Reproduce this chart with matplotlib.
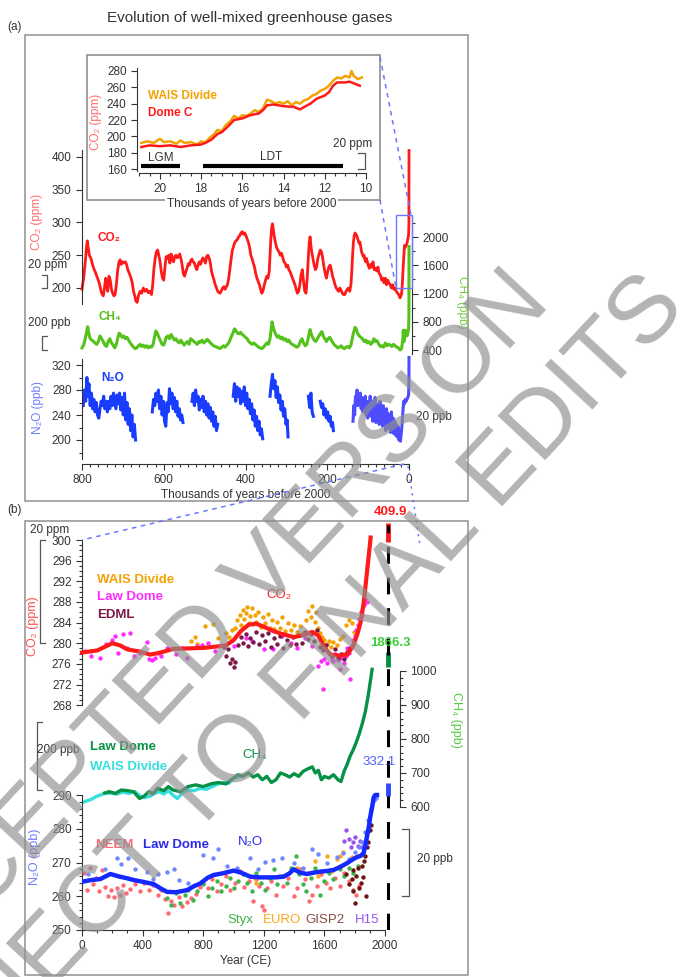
import numpy as np
import matplotlib
matplotlib.use("Agg")
import matplotlib.pyplot as plt
import matplotlib.transforms as mtransforms
from matplotlib.lines import Line2D
from matplotlib.patches import Rectangle

plt.rcParams["font.family"] = ["Liberation Sans", "DejaVu Sans"]
plt.rcParams["font.size"] = 8.5

W, H = 687, 977
NAN = float("nan")

# ---------------- panel (a): last 800 kyr (kyr before 2000) ----------------
co2_800k = [
    (800, 198), (796, 215), (792, 240), (789, 262), (787, 272), (785, 262), (782, 250), (778, 245),
    (774, 235), (770, 228), (766, 222), (762, 215), (758, 208), (755, 200), (752, 192), (748, 188),
    (745, 200), (742, 215), (740, 205), (737, 195), (734, 218), (731, 212), (728, 198), (725, 192),
    (722, 188), (719, 190), (716, 205), (713, 225), (710, 238), (707, 243), (704, 236), (701, 240),
    (698, 238), (694, 240), (691, 236), (688, 228), (684, 222), (680, 215), (677, 208), (674, 195),
    (671, 188), (668, 180), (665, 178), (662, 188), (658, 195), (654, 192), (650, 200), (646, 195),
    (642, 198), (638, 193), (634, 195), (630, 190), (627, 205), (624, 230), (621, 245), (618, 255),
    (615, 258), (612, 250), (609, 240), (606, 225), (603, 215), (600, 212), (597, 232), (594, 248),
    (591, 245), (588, 250), (585, 238), (582, 252), (579, 245), (576, 240), (573, 248), (570, 250),
    (567, 246), (564, 248), (561, 252), (558, 245), (555, 235), (552, 222), (549, 218), (546, 225),
    (543, 230), (540, 237), (537, 235), (534, 242), (531, 244), (528, 240), (525, 238), (522, 232),
    (519, 228), (516, 235), (513, 240), (510, 236), (507, 242), (504, 246), (501, 242), (498, 238),
    (495, 248), (492, 250), (489, 246), (486, 238), (483, 225), (480, 218), (477, 212), (474, 205),
    (471, 200), (468, 195), (465, 193), (462, 192), (459, 196), (456, 200), (453, 202), (450, 198),
    (447, 202), (444, 205), (441, 215), (438, 230), (435, 245), (432, 258), (429, 264), (426, 270),
    (423, 272), (420, 274), (417, 278), (414, 280), (411, 284), (408, 286), (405, 282), (402, 284),
    (399, 280), (396, 275), (393, 270), (390, 262), (387, 250), (384, 245), (381, 238), (378, 232),
    (375, 222), (372, 215), (369, 210), (366, 205), (363, 198), (360, 192), (357, 196), (354, 205),
    (351, 212), (348, 218), (345, 215), (342, 225), (340, 250), (338, 275), (336, 292), (334, 298),
    (332, 290), (330, 280), (327, 270), (324, 262), (321, 258), (318, 255), (315, 250), (312, 253),
    (309, 247), (306, 240), (303, 238), (300, 232), (297, 235), (294, 228), (291, 225), (288, 220),
    (285, 215), (282, 210), (279, 205), (276, 198), (273, 192), (270, 195), (267, 205), (264, 220),
    (261, 228), (258, 210), (255, 195), (252, 192), (249, 215), (246, 250), (244, 270), (242, 278),
    (240, 265), (238, 255), (235, 245), (232, 235), (229, 228), (226, 232), (223, 245), (220, 252),
    (217, 258), (214, 255), (211, 245), (208, 232), (205, 222), (202, 215), (199, 225), (196, 232),
    (193, 235), (190, 228), (187, 218), (184, 212), (181, 205), (178, 200), (175, 197), (172, 195),
    (169, 200), (166, 196), (163, 192), (160, 190), (157, 190), (154, 195), (151, 198), (148, 200),
    (145, 195), (142, 205), (140, 225), (138, 250), (136, 270), (134, 280), (132, 284), (130, 282),
    (128, 280), (126, 276), (124, 272), (122, 268), (120, 270), (118, 262), (116, 255), (114, 252),
    (112, 248), (110, 250), (108, 244), (106, 240), (104, 245), (102, 240), (100, 235), (97, 230),
    (94, 236), (91, 232), (88, 240), (85, 228), (82, 230), (79, 226), (76, 232), (73, 222),
    (70, 220), (67, 212), (64, 215), (61, 208), (58, 215), (55, 205), (52, 212), (49, 208),
    (46, 205), (43, 200), (40, 205), (37, 198), (34, 200), (31, 195), (28, 192), (25, 190),
    (22, 185), (20, 188), (18, 192), (16, 210), (14, 235), (12, 255), (11, 265), (9, 262),
    (7, 265), (5, 268), (3, 275), (1, 280), (0.2, 300), (0.05, 340), (0.0, 410),
]

ch4_800k = [
    (800, 430), (796, 470), (792, 560), (788, 680), (786, 730), (784, 650), (780, 560), (776, 540),
    (772, 520), (768, 500), (764, 480), (760, 520), (756, 600), (752, 560), (748, 520), (744, 470),
    (740, 450), (736, 520), (732, 560), (728, 500), (724, 470), (720, 430), (716, 480), (712, 580),
    (709, 640), (706, 620), (702, 580), (698, 600), (694, 560), (690, 580), (686, 540), (682, 500),
    (678, 470), (674, 440), (670, 420), (666, 430), (662, 460), (658, 480), (654, 450), (650, 470),
    (646, 440), (642, 460), (638, 430), (634, 450), (630, 440), (626, 480), (622, 600), (619, 670),
    (616, 640), (612, 580), (608, 530), (604, 480), (600, 470), (597, 520), (594, 580), (590, 600),
    (586, 560), (582, 620), (578, 580), (574, 540), (570, 560), (566, 520), (562, 500), (558, 540),
    (554, 500), (550, 470), (546, 500), (542, 520), (538, 480), (534, 560), (530, 540), (526, 520),
    (522, 500), (518, 480), (514, 520), (510, 510), (506, 540), (502, 500), (498, 520), (494, 550),
    (490, 530), (486, 500), (482, 480), (478, 460), (474, 450), (470, 440), (466, 430), (462, 420),
    (458, 440), (454, 460), (450, 440), (446, 470), (442, 490), (438, 540), (434, 600), (430, 650),
    (427, 700), (424, 680), (420, 640), (416, 630), (412, 650), (408, 620), (404, 600), (400, 580),
    (396, 560), (392, 520), (388, 500), (384, 480), (380, 500), (376, 480), (372, 460), (368, 440),
    (364, 430), (360, 420), (356, 440), (352, 470), (348, 500), (344, 480), (340, 560), (337, 700),
    (335, 800), (333, 740), (330, 680), (326, 620), (322, 580), (318, 600), (314, 560), (310, 580),
    (306, 540), (302, 560), (298, 520), (294, 540), (290, 500), (286, 480), (282, 470), (278, 450),
    (274, 440), (270, 460), (266, 520), (262, 560), (258, 500), (254, 460), (250, 480), (247, 560),
    (244, 640), (242, 690), (240, 640), (236, 580), (232, 540), (228, 520), (224, 560), (220, 600),
    (216, 640), (213, 660), (210, 600), (206, 560), (202, 520), (198, 560), (194, 580), (190, 540),
    (186, 500), (182, 470), (178, 450), (174, 430), (170, 440), (166, 460), (162, 430), (158, 420),
    (154, 440), (150, 450), (146, 430), (142, 470), (139, 560), (136, 640), (132, 720), (129, 700),
    (126, 640), (122, 600), (118, 580), (114, 560), (110, 520), (106, 540), (102, 500), (98, 520),
    (94, 480), (90, 500), (86, 560), (82, 520), (78, 530), (74, 480), (70, 450), (66, 460),
    (62, 440), (58, 500), (54, 460), (50, 480), (46, 470), (42, 450), (38, 480), (34, 460),
    (30, 440), (26, 430), (22, 400), (18, 420), (15, 560), (14, 680), (12, 520), (11, 650),
    (9, 680), (7, 640), (5, 600), (3, 640), (1, 700), (0.2, 900), (0.05, 1300), (0.0, 1866),
]

n2o_800k = [
    (797, 255), (794, 280), (791, 262), (788, 300), (786, 270), (783, 290), (780, 255), (777, 275),
    (774, 250), (771, 265), (768, 245), (765, 260), (762, 240), (759, 235), (756, 250), (753, 262),
    (750, 255), (747, 270), (744, 250), (741, 262), (738, 245), (735, 262), (732, 250), (729, 270),
    (726, 255), (723, 275), (720, 262), (717, 250), (714, 272), (711, 258), (708, 275), (705, 248),
    (702, 268), (699, 240), (696, 275), (693, 232), (690, 260), (687, 225), (684, 250), (681, 215),
    (678, 240), (675, 205), (672, 225), (669, 200), (NAN, NAN),
    (628, 245), (625, 265), (622, 255), (619, 275), (616, 262), (613, 280), (610, 250), (607, 270),
    (604, 240), (601, 262), (598, 230), (595, 222), (592, 260), (589, 245), (586, 282), (583, 258),
    (580, 275), (577, 250), (574, 268), (571, 245), (568, 262), (565, 238), (562, 250), (559, 232),
    (556, 240), (553, 228), (NAN, NAN),
    (531, 262), (528, 275), (525, 255), (522, 280), (519, 262), (516, 270), (513, 248), (510, 265),
    (507, 252), (504, 270), (501, 245), (498, 262), (495, 240), (492, 258), (489, 235), (486, 252),
    (483, 230), (480, 245), (477, 222), (474, 238), (471, 215), (468, 225), (NAN, NAN),
    (430, 270), (427, 290), (424, 262), (421, 285), (418, 270), (415, 282), (412, 258), (409, 278),
    (406, 262), (403, 285), (400, 255), (397, 275), (394, 250), (391, 265), (388, 242), (385, 258),
    (382, 232), (379, 248), (376, 222), (373, 238), (370, 215), (367, 230), (364, 208), (361, 218),
    (358, 202), (NAN, NAN),
    (340, 270), (337, 290), (334, 305), (331, 282), (328, 295), (325, 268), (322, 285), (319, 260),
    (316, 272), (313, 248), (310, 262), (307, 238), (304, 250), (301, 225), (298, 232), (296, 205),
    (NAN, NAN),
    (246, 270), (243, 252), (240, 275), (237, 245), (234, 238), (NAN, NAN),
    (217, 262), (214, 252), (211, 258), (208, 240), (205, 250), (202, 235), (199, 245), (196, 230),
    (193, 238), (190, 222), (187, 228), (185, 215),
]

n2o_recent = [
    (137, 230), (135, 255), (133, 240), (131, 270), (129, 262), (127, 280), (125, 255), (123, 272),
    (121, 260), (119, 275), (117, 250), (115, 268), (113, 245), (111, 265), (109, 250), (107, 270),
    (105, 240), (103, 262), (101, 235), (99, 258), (97, 245), (95, 270), (93, 238), (91, 262),
    (89, 230), (87, 255), (85, 240), (83, 268), (81, 228), (79, 258), (77, 235), (75, 250),
    (73, 225), (71, 262), (69, 232), (67, 248), (65, 222), (63, 255), (61, 228), (59, 245),
    (57, 215), (55, 250), (53, 225), (51, 242), (49, 218), (47, 238), (45, 212), (43, 245),
    (41, 222), (39, 235), (37, 210), (35, 230), (33, 208), (31, 225), (29, 205), (27, 222),
    (25, 200), (23, 215), (21, 198), (19, 210), (17, 225), (15, 245), (13, 262), (11, 258),
    (9, 265), (7, 262), (5, 265), (3, 268), (1, 272), (0.2, 290), (0.0, 332),
]

# inset: deglaciation CO2 (kyr before 2000)
wais_deglac = [
    (20.9, 192), (20.6, 194), (20.3, 192), (20.0, 197), (19.8, 193), (19.5, 194), (19.2, 191),
    (19.0, 195), (18.8, 192), (18.5, 193), (18.2, 190), (18.0, 194), (17.8, 192), (17.6, 198),
    (17.4, 202), (17.2, 208), (17.0, 206), (16.8, 214), (16.6, 218), (16.4, 225), (16.2, 222),
    (16.0, 226), (15.8, 225), (15.6, 228), (15.4, 232), (15.2, 230), (15.0, 234), (14.8, 245),
    (14.6, 243), (14.4, 240), (14.2, 242), (14.0, 240), (13.8, 243), (13.6, 238), (13.4, 242),
    (13.2, 240), (13.0, 244), (12.8, 246), (12.6, 250), (12.4, 252), (12.2, 256), (12.0, 258),
    (11.8, 262), (11.6, 268), (11.4, 272), (11.2, 271), (11.0, 274), (10.8, 272), (10.7, 280),
    (10.6, 274), (10.4, 270), (10.2, 272),
]
domec_deglac = [
    (20.9, 187), (20.5, 189), (20.0, 188), (19.5, 189), (19.0, 187), (18.5, 189), (18.0, 190),
    (17.8, 192), (17.5, 196), (17.2, 203), (17.0, 205), (16.7, 212), (16.4, 220), (16.0, 222),
    (15.6, 226), (15.2, 228), (15.0, 232), (14.8, 238), (14.5, 239), (14.0, 237), (13.5, 236),
    (13.2, 233), (13.0, 236), (12.7, 240), (12.4, 246), (12.0, 250), (11.8, 254), (11.6, 262),
    (11.4, 266), (11.0, 266), (10.8, 267), (10.5, 264), (10.3, 262),
]
lgm_kyr = (20.9, 19.0)
ldt_kyr = (17.9, 11.1)

# ---------------- panel (b): Common Era (year CE) ----------------
co2_lawdome_fit = [
    (0, 278.2), (100, 278.6), (200, 280.0), (250, 279.6), (300, 278.8), (380, 278.4), (450, 277.8),
    (520, 278.2), (600, 278.9), (700, 279.0), (800, 279.1), (900, 279.4), (950, 279.6), (1000, 280.6),
    (1050, 282.4), (1100, 283.6), (1150, 283.8), (1200, 283.2), (1260, 282.4), (1320, 281.8),
    (1400, 281.2), (1460, 281.6), (1520, 282.2), (1560, 281.5), (1600, 279.2), (1640, 277.8),
    (1700, 277.6), (1750, 277.8), (1790, 279.5), (1820, 282.0), (1840, 284.2), (1860, 288.0),
    (1880, 293.5), (1900, 299.0), (1905, 300.5),
]
co2_wais = [
    (720, 280.5), (745, 281.2), (760, 279.8), (812, 283.3), (866, 283.7), (900, 281.0), (950, 282.0),
    (970, 281.2), (990, 282.5), (1010, 283.0), (1025, 284.5), (1040, 285.5), (1050, 283.5),
    (1060, 286.5), (1070, 284.8), (1080, 285.8), (1090, 287.0), (1100, 284.0), (1110, 285.2),
    (1120, 286.8), (1130, 283.8), (1140, 285.5), (1150, 284.2), (1165, 286.0), (1180, 283.2),
    (1195, 285.0), (1210, 284.0), (1225, 285.6), (1240, 283.0), (1255, 284.6), (1270, 282.8),
    (1290, 284.2), (1305, 283.0), (1320, 285.0), (1340, 282.4), (1360, 284.0), (1380, 282.6),
    (1400, 283.6), (1420, 282.2), (1440, 283.4), (1460, 282.0), (1480, 284.5), (1495, 286.2),
    (1510, 285.0), (1520, 287.3), (1535, 284.2), (1545, 286.0), (1555, 283.0), (1570, 282.0),
    (1585, 281.2), (1600, 280.6), (1615, 279.8), (1630, 280.4), (1645, 279.2), (1660, 280.2),
    (1680, 279.6), (1700, 280.8), (1720, 281.5), (1740, 283.5), (1760, 284.6), (1780, 284.0),
    (1795, 282.2),
]
co2_lawdome = [
    (20, 278.5), (60, 277.6), (120, 277.2), (160, 279.8), (200, 280.6), (220, 281.5), (240, 278.2),
    (270, 281.7), (300, 279.0), (315, 282.0), (340, 277.6), (380, 278.2), (427, 280.2), (440, 277.0),
    (460, 276.8), (480, 277.2), (500, 278.2), (520, 277.6), (560, 279.0), (620, 278.0), (660, 279.0),
    (690, 277.1), (760, 279.5), (790, 279.6), (830, 280.0), (880, 278.5), (1000, 279.5), (1080, 281.0),
    (1120, 280.5), (1200, 278.8), (1262, 278.8), (1320, 281.5), (1380, 280.0), (1420, 279.0),
    (1470, 281.0), (1520, 279.5), (1560, 275.5), (1580, 276.5), (1592, 271.1), (1600, 277.0),
    (1620, 276.2), (1635, 278.0), (1650, 277.0), (1660, 276.5), (1670, 278.0), (1680, 277.5),
    (1690, 276.8), (1703, 275.0), (1710, 277.2), (1720, 278.0), (1730, 276.2), (1740, 277.5),
    (1750, 279.0), (1760, 278.2), (1768, 273.0), (1780, 279.5), (1790, 280.6), (1800, 281.5),
    (1810, 282.5), (1820, 283.5), (1830, 284.8), (1840, 286.0), (1850, 285.5), (1860, 287.5),
    (1870, 288.5), (1880, 288.0),
]
co2_edml = [
    (935, 279.2), (950, 277.6), (965, 278.8), (975, 276.2), (990, 277.0), (1000, 275.4), (1010, 276.4),
    (1030, 279.6), (1050, 281.2), (1065, 280.0), (1080, 281.8), (1095, 279.5), (1110, 281.0),
    (1130, 280.2), (1150, 282.2), (1170, 279.8), (1190, 281.6), (1210, 280.4), (1230, 282.0),
    (1250, 279.2), (1270, 281.0), (1290, 279.8), (1310, 281.4), (1330, 279.0), (1350, 280.6),
    (1370, 279.6), (1390, 281.2), (1410, 279.8), (1430, 281.6), (1450, 280.0), (1470, 282.2),
    (1490, 280.8), (1510, 281.8), (1530, 280.4), (1550, 282.6), (1570, 279.2), (1590, 278.6),
    (1610, 279.6), (1630, 278.2), (1650, 277.6), (1670, 278.8), (1690, 277.2), (1710, 278.0),
    (1730, 277.0), (1750, 278.4), (1770, 279.0),
]

ch4_wais = [
    (0, 612), (30, 618), (60, 622), (90, 630), (120, 635), (150, 640), (190, 641), (230, 638),
    (270, 644), (310, 640), (350, 645), (390, 630), (420, 628), (450, 632), (480, 640), (510, 645),
    (540, 638), (570, 648), (600, 635), (630, 625), (660, 640), (700, 650), (740, 648), (780, 655),
    (820, 652), (860, 660), (900, 668), (940, 672), (970, 670), (1000, 685), (1040, 690),
]
ch4_lawdome = [
    (150, 641), (180, 645), (220, 640), (260, 650), (300, 648), (340, 645), (380, 625), (410, 632),
    (440, 645), (470, 640), (500, 655), (540, 648), (570, 660), (600, 650), (650, 645), (700, 660),
    (750, 665), (800, 660), (850, 668), (900, 672), (950, 668), (1000, 685), (1030, 695),
    (1060, 690), (1100, 700), (1130, 688), (1160, 695), (1190, 680), (1220, 690), (1250, 672),
    (1280, 680), (1310, 700), (1340, 695), (1370, 688), (1400, 698), (1430, 690), (1460, 705),
    (1490, 712), (1520, 718), (1540, 700), (1560, 708), (1580, 680), (1600, 690), (1630, 685),
    (1660, 695), (1690, 680), (1710, 675), (1730, 705), (1750, 725), (1770, 750), (1790, 768),
    (1810, 790), (1830, 815), (1850, 845), (1870, 880), (1890, 930), (1905, 975), (1915, 1005),
]

n2o_lawdome_fit = [
    (0, 264.3), (60, 264.8), (121, 265.1), (187, 266.6), (250, 265.8), (300, 265.3), (341, 264.8),
    (400, 264.3), (473, 263.6), (520, 262.3), (561, 261.3), (620, 261.2), (693, 261.8), (740, 263.0),
    (781, 263.8), (830, 265.5), (869, 266.3), (930, 266.8), (1001, 267.6), (1050, 267.0),
    (1111, 265.8), (1170, 265.6), (1221, 265.6), (1280, 265.6), (1331, 265.8), (1370, 266.8),
    (1397, 268.0), (1440, 267.0), (1485, 266.6), (1530, 267.0), (1573, 267.3), (1620, 267.5),
    (1661, 267.8), (1700, 268.6), (1749, 269.8), (1790, 271.0), (1815, 271.6), (1840, 272.0),
    (1859, 272.8), (1870, 275.0), (1881, 277.7), (1893, 280.5), (1903, 283.6), (1915, 286.5),
    (1925, 289.2), (1935, 290.0), (1947, 290.0),
]
n2o_lawdome = [
    (40, 266.5), (150, 268.0), (229, 271.2), (260, 269.5), (306, 271.2), (350, 268.0), (427, 267.3),
    (470, 265.0), (500, 266.5), (560, 267.3), (604, 268.1), (640, 264.8), (700, 264.0), (800, 272.2),
    (866, 271.2), (899, 274.1), (960, 269.0), (1020, 268.5), (1109, 271.2), (1160, 268.0),
    (1208, 270.2), (1260, 270.8), (1318, 271.2), (1400, 270.0), (1460, 268.5), (1516, 274.1),
    (1560, 272.5), (1620, 270.0), (1680, 271.5), (1720, 272.8), (1760, 271.0), (1800, 273.0),
    (1830, 274.5), (1850, 276.0), (1870, 279.0), (1890, 282.5), (1910, 286.0), (1925, 288.5),
    (1935, 289.5), (1940, 289.0),
]
n2o_neem = [
    (10, 266.8), (30, 262.0), (50, 268.5), (70, 263.5), (90, 265.5), (110, 261.5), (130, 267.8),
    (150, 262.8), (170, 260.2), (190, 261.8), (210, 259.8), (230, 262.5), (250, 260.5), (270, 263.2),
    (290, 261.0), (320, 262.2), (350, 263.5), (380, 261.5), (410, 264.0), (440, 262.0), (470, 263.2),
    (500, 260.5), (520, 262.0), (545, 259.2), (565, 255.0), (590, 258.5), (610, 257.5), (640, 259.8),
    (660, 257.0), (690, 258.2), (720, 259.5), (750, 260.8), (780, 262.8), (800, 264.0), (830, 262.5),
    (860, 265.0), (890, 261.5), (920, 263.5), (950, 266.0), (980, 262.0), (1010, 264.0),
    (1040, 267.5), (1070, 262.8), (1100, 264.5), (1130, 258.5), (1150, 265.2), (1170, 263.0),
    (1190, 257.2), (1200, 255.8), (1220, 262.5), (1250, 264.5), (1280, 260.5), (1300, 266.0),
    (1330, 263.0), (1360, 265.5), (1400, 260.0), (1420, 262.5), (1440, 268.0), (1470, 265.0),
    (1500, 258.5), (1520, 260.5), (1550, 263.0), (1580, 266.5), (1610, 264.0), (1640, 262.5),
    (1670, 265.5), (1700, 263.0), (1730, 267.0), (1760, 264.5), (1790, 262.0), (1810, 260.5),
    (1830, 263.0),
]
n2o_styx = [
    (560, 259.5), (590, 257.5), (620, 261.0), (650, 258.0), (680, 260.5), (700, 262.0), (730, 259.0),
    (760, 261.5), (800, 263.5), (830, 260.0), (860, 262.5), (890, 264.5), (920, 261.5), (950, 263.0),
    (980, 265.5), (1000, 262.5), (1030, 264.5), (1060, 266.5), (1090, 263.8), (1120, 261.5),
    (1150, 266.8), (1180, 264.0), (1210, 262.0), (1240, 265.5), (1270, 268.0), (1290, 263.5),
    (1320, 266.0), (1350, 264.0), (1380, 268.5), (1410, 272.0), (1430, 266.5), (1460, 263.5),
    (1480, 261.5), (1510, 265.5), (1540, 268.5), (1570, 260.5), (1600, 264.5), (1630, 267.0),
    (1660, 265.0), (1700, 268.0), (1730, 266.0), (1760, 268.5), (1790, 267.0), (1820, 269.0),
]
n2o_euro = [
    (1140, 265.5), (1150, 264.0), (1420, 268.5), (1500, 267.0), (1540, 270.5), (1560, 266.0),
    (1620, 272.0), (1650, 267.5), (1680, 271.0), (1700, 272.0), (1720, 273.0), (1780, 271.5),
]
n2o_gisp2 = [
    (1740, 266.5), (1760, 263.5), (1780, 265.0), (1789, 267.8), (1790, 261.5), (1802, 258.0),
    (1810, 266.0), (1820, 268.5), (1830, 262.5), (1840, 264.0), (1850, 269.0), (1855, 265.7),
    (1860, 270.5), (1870, 272.0), (1875, 260.0), (1880, 274.5), (1890, 276.0), (1900, 279.5),
    (1910, 281.0),
]
n2o_h15 = [
    (1730, 276.5), (1745, 279.5), (1760, 277.0), (1775, 274.5), (1790, 276.0), (1805, 277.5),
    (1820, 275.0), (1835, 276.5), (1850, 274.5),
]

year_2019 = 2019
co2_2019, ch4_2019, n2o_2019 = 409.9, 1866.3, 332.1

# colours
RED = "#ff1a1a"
LIME = "#55c21b"
BLUE = "#1a3cff"
BLUE_LIGHT = "#4d4dff"
ORANGE = "#f2a202"
MAGENTA = "#ff2cff"
EDML = "#7a1848"
DKGREEN = "#079146"
CYAN = "#36dede"
INK = "#333333"


def xy(pairs):
    a = np.array(pairs, dtype=float)
    return a[:, 0], a[:, 1]


def box(x0, y0, x1, y1):
    return [x0 / W, 1 - y1 / H, (x1 - x0) / W, (y1 - y0) / H]


def fx(x):
    return x / W


def fy(y):
    return 1 - y / H


def layer(rect, xlim, ylim, z=1):
    ax = fig.add_axes(box(*rect))
    ax.set_xlim(*xlim)
    ax.set_ylim(*ylim)
    ax.patch.set_alpha(0)
    ax.set_zorder(z)
    for s in ax.spines.values():
        s.set_visible(False)
        s.set_color(INK)
        s.set_linewidth(0.8)
    ax.set_xticks([])
    ax.set_yticks([])
    ax.tick_params(which="both", direction="out", color=INK, labelcolor=INK,
                   labelsize=8.5, width=0.8)
    ax.tick_params(which="major", length=4)
    ax.tick_params(which="minor", length=2)
    return ax


def bracket(ax, xa, w, y0, y1):
    tr = mtransforms.blended_transform_factory(ax.transAxes, ax.transData)
    ax.plot([xa + w, xa, xa, xa + w], [y0, y0, y1, y1], color="#555555", lw=0.9,
            transform=tr, clip_on=False)


def fig_line(xs, ys, **kw):
    fig.add_artist(Line2D([fx(v) for v in xs], [fy(v) for v in ys],
                          transform=fig.transFigure, **kw))


fig = plt.figure(figsize=(W / 100, H / 100), dpi=100)
fig.patch.set_facecolor("white")

# panel frames
for (x0, y0, x1, y1) in [(25, 35, 468, 501), (25, 521, 468, 975)]:
    fig.add_artist(Rectangle((fx(x0), fy(y1)), (x1 - x0) / W, (y1 - y0) / H,
                             transform=fig.transFigure, fill=False,
                             ec="#a0a0a0", lw=1.3, zorder=0))
fig.text(fx(250), fy(18), "Evolution of well-mixed greenhouse gases",
         ha="center", va="center", fontsize=11, color=INK)
fig.text(fx(14), fy(27), "(a)", ha="center", va="center", fontsize=8.5, color=INK)
fig.text(fx(14), fy(510), "(b)", ha="center", va="center", fontsize=8.5, color=INK)

# ---------------- panel (a) ----------------
ax_c = layer((82, 145, 409, 464), (800, 0), (-68.7, 418.3))
ax_c.spines["left"].set_visible(True)
ax_c.spines["left"].set_bounds(175, 410)
ax_c.set_yticks(np.arange(200, 401, 50))
t, v = xy(co2_800k)
ax_c.plot(t, v, color=RED, lw=2.0, clip_on=False)
ax_c.text(733, 276, "CO₂", color=RED, fontsize=8.5, fontweight="bold",
          ha="center", va="center")
bracket(ax_c, -0.107, -0.015, 200, 220)

ax_m = layer((82, 145, 412, 464), (800, -7.3), (-1214.7, 3303.7))
ax_m.spines["right"].set_visible(True)
ax_m.spines["right"].set_bounds(350, 2300)
ax_m.yaxis.tick_right()
ax_m.set_yticks(np.arange(400, 2001, 400))
ax_m.set_yticks(np.arange(600, 2201, 400), minor=True)
t, v = xy(ch4_800k)
ax_m.plot(t, v, color=LIME, lw=2.2, clip_on=False)
ax_m.text(733, 867, "CH₄", color=LIME, fontsize=8.5, fontweight="bold",
          ha="center", va="center")
bracket(ax_m, -0.122, 0.015, 400, 600)

ax_n = layer((82, 145, 409, 464), (800, 0), (161.6, 672))
ax_n.spines["left"].set_visible(True)
ax_n.spines["left"].set_bounds(170, 330)
ax_n.spines["bottom"].set_visible(True)
ax_n.spines["bottom"].set_bounds(0, 800)
ax_n.set_yticks(np.arange(200, 321, 40))
ax_n.set_yticks(np.arange(180, 331, 20), minor=True)
ax_n.set_xticks(np.arange(0, 801, 200))
ax_n.set_xticks(np.arange(0, 801, 20), minor=True)
ax_n.set_xlabel("Thousands of years before 2000", fontsize=8.5, color=INK, labelpad=2)
t, v = xy(n2o_800k)
ax_n.plot(t, v, color=BLUE, lw=2.2)
t, v = xy(n2o_recent)
ax_n.plot(t, v, color=BLUE_LIGHT, lw=2.2, clip_on=False)
ax_n.text(726, 299, "N₂O", color=BLUE, fontsize=8.5, fontweight="bold",
          ha="center", va="center")

fig.text(fx(37), fy(222), "CO₂ (ppm)", rotation=90, color="#ff6b6b", fontsize=8.5,
         ha="center", va="center")
fig.text(fx(38), fy(408), "N₂O (ppb)", rotation=90, color="#6f7bff", fontsize=8.5,
         ha="center", va="center")
fig.text(fx(462), fy(302), "CH₄ (ppb)", rotation=270, color="#74cc3a", fontsize=8.5,
         ha="center", va="center")
fig.text(fx(48), fy(265), "20 ppm", fontsize=8.5, color=INK, ha="center", va="center")
fig.text(fx(49), fy(323), "200 ppb", fontsize=8.5, color=INK, ha="center", va="center")
fig.text(fx(434), fy(417), "20 ppb", fontsize=8.5, color=INK, ha="center", va="center")

# inset
fig.add_artist(Rectangle((fx(87), fy(200)), 293 / W, 145 / H, transform=fig.transFigure,
                         fc="white", ec="#8f8f8f", lw=1.2, zorder=2))
ax_i = layer((137, 62, 366, 173), (21.11, 10.05), (155.2, 291), z=3)
ax_i.spines["left"].set_visible(True)
ax_i.spines["left"].set_bounds(158, 284)
ax_i.spines["bottom"].set_visible(True)
ax_i.spines["bottom"].set_bounds(10, 21)
ax_i.set_yticks(np.arange(160, 281, 20))
ax_i.set_xticks(np.arange(10, 21, 2))
ax_i.set_xticks(np.arange(10, 21.1, 0.5), minor=True)
ax_i.set_xlabel("Thousands of years before 2000", fontsize=8.5, color=INK, labelpad=2,
                bbox=dict(fc="white", ec="none", pad=1))
t, v = xy(wais_deglac)
ax_i.plot(t, v, color=ORANGE, lw=1.8)
t, v = xy(domec_deglac)
ax_i.plot(t, v, color=RED, lw=1.8)
ax_i.plot(lgm_kyr, [164, 164], color="black", lw=3, solid_capstyle="butt")
ax_i.plot(ldt_kyr, [164, 164], color="black", lw=3, solid_capstyle="butt")
ax_i.text(np.mean(lgm_kyr), 174, "LGM", fontsize=8.5, color=INK, ha="center", va="center")
ax_i.text(np.mean(ldt_kyr) + 0.1, 175, "LDT", fontsize=8.5, color=INK, ha="center", va="center")
ax_i.text(20.6, 249, "WAIS Divide", color=ORANGE, fontsize=8.5, fontweight="bold", va="center")
ax_i.text(20.6, 229, "Dome C", color=RED, fontsize=8.5, fontweight="bold", va="center")
bracket(ax_i, 0.996, -0.03, 160, 180)
fig.text(fx(353), fy(144), "20 ppm", fontsize=8.5, color=INK, ha="center", va="center",
         zorder=5)
fig.text(fx(96), fy(122), "CO₂ (ppm)", rotation=90, color="#ff6b6b", fontsize=8.5,
         ha="center", va="center", zorder=5)

# zoom connectors
ZC = "#6a78ff"
fig.add_artist(Rectangle((fx(396), fy(288)), 16 / W, 73 / H, transform=fig.transFigure,
                         fill=False, ec=ZC, lw=1.0, zorder=4))
fig_line([380, 411], [57, 215], color=ZC, lw=1.1, ls=(0, (3, 3)), zorder=4)
fig_line([380, 396], [200, 288], color=ZC, lw=1.1, ls=(0, (3, 3)), zorder=4)
fig_line([404, 82], [464, 540], color=ZC, lw=1.1, ls=(0, (3, 3)), zorder=4)
fig_line([408, 420], [466, 545], color=ZC, lw=1.1, ls=(0, (1.5, 3)), zorder=4)

# ---------------- panel (b) ----------------
ax_bc = layer((82, 520, 410, 930), (0, 2165), (224.4, 303.9))
ax_bc.spines["left"].set_visible(True)
ax_bc.spines["left"].set_bounds(268, 300)
ax_bc.set_yticks(np.arange(268, 301, 4))
ax_bc.set_yticks(np.arange(268, 301, 1), minor=True)
for pairs, col in [(co2_wais, ORANGE), (co2_lawdome, MAGENTA), (co2_edml, EDML)]:
    t, v = xy(pairs)
    ax_bc.scatter(t, v, s=10, color=col, lw=0, zorder=2)
t, v = xy(co2_lawdome_fit)
ax_bc.plot(t, v, color=RED, lw=3, zorder=3, clip_on=False)
ax_bc.plot([year_2019] * 2, [299.6, 303.3], color=RED, lw=3.5, clip_on=False,
           solid_capstyle="butt", zorder=5)
ax_bc.text(98, 292.3, "WAIS Divide", color=ORANGE, fontsize=9.5, fontweight="bold",
           va="center")
ax_bc.text(98, 289.0, "Law Dome", color=MAGENTA, fontsize=9.5, fontweight="bold",
           va="center")
ax_bc.text(98, 285.5, "EDML", color=EDML, fontsize=9.5, fontweight="bold", va="center")
ax_bc.text(1300, 289.3, "CO₂", color=RED, fontsize=9.5, ha="center", va="center")
bracket(ax_bc, -0.128, 0.015, 280, 300)

ax_bm = layer((82, 520, 400, 930), (0, 2099), (238.2, 1444.1))
ax_bm.spines["right"].set_visible(True)
ax_bm.spines["right"].set_bounds(600, 1000)
ax_bm.yaxis.tick_right()
ax_bm.set_yticks(np.arange(600, 1001, 100))
ax_bm.set_yticks(np.arange(600, 1001, 20), minor=True)
t, v = xy(ch4_wais)
ax_bm.plot(t, v, color=CYAN, lw=2.4)
t, v = xy(ch4_lawdome)
ax_bm.plot(t, v, color=DKGREEN, lw=2.4)
ax_bm.plot([year_2019] * 2, [1012, 1056], color=DKGREEN, lw=3.5, clip_on=False,
           solid_capstyle="butt", zorder=5)
ax_bm.text(52, 776, "Law Dome", color=DKGREEN, fontsize=9.5, fontweight="bold", va="center")
ax_bm.text(52, 718, "WAIS Divide", color=CYAN, fontsize=9.5, fontweight="bold", va="center")
ax_bm.text(1140, 753, "CH₄", color=DKGREEN, fontsize=9.5, ha="center", va="center")
bracket(ax_bm, -0.14, 0.015, 650, 850)

ax_bn = layer((82, 520, 410, 930), (0, 2165), (250, 371.5))
ax_bn.spines["left"].set_visible(True)
ax_bn.spines["left"].set_bounds(250, 290)
ax_bn.spines["bottom"].set_visible(True)
ax_bn.spines["bottom"].set_bounds(0, 2000)
ax_bn.set_yticks(np.arange(250, 291, 10))
ax_bn.set_yticks(np.arange(250, 291, 2), minor=True)
ax_bn.set_xticks(np.arange(0, 2001, 400))
ax_bn.set_xticks(np.arange(0, 2001, 100), minor=True)
ax_bn.set_xlabel("Year (CE)", fontsize=8.5, color=INK, labelpad=2)
for pairs, col in [(n2o_neem, "#ff6a72"), (n2o_styx, "#3cb44a"), (n2o_euro, "#ffa51a"),
                   (n2o_gisp2, "#6b1510"), (n2o_h15, "#9a55f0"), (n2o_lawdome, "#7088ff")]:
    t, v = xy(pairs)
    ax_bn.scatter(t, v, s=10, color=col, lw=0, zorder=2)
t, v = xy(n2o_lawdome_fit)
ax_bn.plot(t, v, color="#1428ff", lw=3.2, zorder=3)
ax_bn.plot([year_2019] * 2, [289.7, 293.6], color="#3048ff", lw=3.5, clip_on=False,
           solid_capstyle="butt", zorder=5)
ax_bn.axvline(year_2019, ymin=0, ymax=0.988, color="black", lw=2.2,
              ls=(0, (5.5, 4.5)), zorder=4)
ax_bn.text(86, 275.2, "NEEM", color="#ff6a72", fontsize=9.5, fontweight="bold", va="center")
ax_bn.text(402, 275.2, "Law Dome", color="#2a2aee", fontsize=9.5, fontweight="bold",
           va="center")
ax_bn.text(1110, 276.0, "N₂O", color="#2a2aee", fontsize=9.5, ha="center", va="center")
ax_bn.text(960, 253, "Styx", color="#3cb44a", fontsize=9.5, va="center")
ax_bn.text(1195, 253, "EURO", color="#ffa51a", fontsize=9.5, va="center")
ax_bn.text(1473, 253, "GISP2", color="#8a4a44", fontsize=9.5, va="center")
ax_bn.text(1800, 253, "H15", color="#9a55f0", fontsize=9.5, va="center")
bracket(ax_bn, 0.997, -0.02, 260, 280)

fig.text(fx(390), fy(512), f"{co2_2019:.1f}", color=RED, fontsize=9.5, fontweight="bold",
         ha="center", va="center")
fig.text(fx(390), fy(643), f"{ch4_2019:.1f}", color="#3ccc3c", fontsize=9.5,
         fontweight="bold", ha="center", va="center", zorder=6)
fig.text(fx(379), fy(762), f"{n2o_2019:.1f}", color="#5060ff", fontsize=9.5,
         ha="center", va="center")
fig.text(fx(33), fy(626), "CO₂ (ppm)", rotation=90, color="#ff5050", fontsize=9,
         ha="center", va="center")
fig.text(fx(456), fy(720), "CH₄ (ppb)", rotation=270, color="#55cc44", fontsize=9,
         ha="center", va="center")
fig.text(fx(35), fy(857), "N₂O (ppb)", rotation=90, color="#6f7bff", fontsize=9,
         ha="center", va="center")
fig.text(fx(50), fy(530), "20 ppm", fontsize=8.5, color=INK, ha="center", va="center")
fig.text(fx(58), fy(750), "200 ppb", fontsize=8.5, color=INK, ha="center", va="center")
fig.text(fx(435), fy(859), "20 ppb", fontsize=8.5, color=INK, ha="center", va="center")

# watermark
for txt, (cx, cy) in [("ACCEPTED VERSION", (205, 640)), ("SUBJECT TO FINAL EDITS", (268, 722))]:
    fig.text(fx(cx), fy(cy), txt, rotation=47, rotation_mode="anchor", fontsize=68,
             color="#909090", alpha=0.68, ha="center", va="center",
             family="Liberation Sans", zorder=50)

fig.savefig("out.png", dpi=100)
